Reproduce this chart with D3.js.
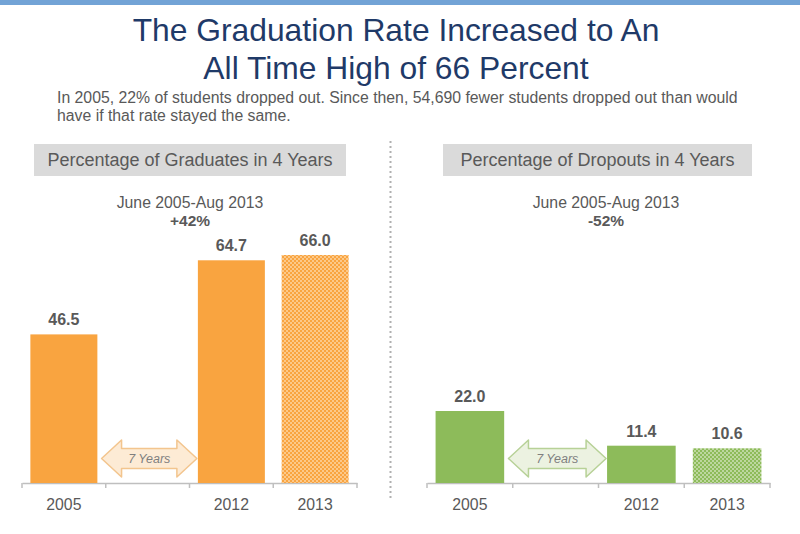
<!DOCTYPE html>
<html><head><meta charset="utf-8">
<script src="https://cdn.jsdelivr.net/npm/d3@7"></script>
<style>
html,body{margin:0;padding:0;background:#fff;}
svg{display:block;font-family:"Liberation Sans",Arial,sans-serif;}
</style></head>
<body>
<svg id="c" width="800" height="534"></svg>
<script>
// ---- data ----
const categories = ["2005", "gap", "2012", "2013"];
const gradYears = ["2005", "2012", "2013"];
const gradValues = [46.5, 64.7, 66.0];
const dropYears = ["2005", "2012", "2013"];
const dropValues = [22.0, 11.4, 10.6];
const projected = ["2013"];
const titleLines = ["The Graduation Rate Increased to An", "All Time High of 66 Percent"];
const subtitleLines = ["In 2005, 22% of students dropped out. Since then, 54,690 fewer students dropped out than would",
                       "have if that rate stayed the same."];
const panelTitles = ["Percentage of Graduates in 4 Years", "Percentage of Dropouts in 4 Years"];
const periodLabel = "June 2005-Aug 2013";
const changeLabels = ["+42%", "-52%"];
const gapLabel = "7 Years";

const svg = d3.select("#c");
const textGray = "#595959";

// top band
svg.append("rect").attr("x",0).attr("y",0).attr("width",800).attr("height",5).attr("fill","#72a3d6");

// title
svg.selectAll("text.title").data(titleLines).enter().append("text")
  .attr("x",396).attr("y",(d,i)=>41+i*38).attr("text-anchor","middle")
  .attr("font-size",31.8).attr("fill","#1f3a68")
  .text(d=>d);

svg.selectAll("text.sub").data(subtitleLines).enter().append("text")
  .attr("x",57).attr("y",(d,i)=>103+i*18)
  .attr("font-size",15.8).attr("fill",textGray).text(d=>d);

// patterns
const defs = svg.append("defs");
function makePattern(id, base, dot){
  const p = defs.append("pattern").attr("id",id).attr("patternUnits","userSpaceOnUse")
    .attr("width",4).attr("height",4);
  p.append("rect").attr("width",4).attr("height",4).attr("fill",base);
  p.append("rect").attr("x",0).attr("y",0).attr("width",2).attr("height",2).attr("fill",dot);
  p.append("rect").attr("x",2).attr("y",2).attr("width",2).attr("height",2).attr("fill",dot);
}
makePattern("pOrange","#f9a440","#fcc98a");
makePattern("pGreen","#8dbb5a","#bdd79e");

// divider
svg.append("line").attr("x1",390.5).attr("x2",390.5).attr("y1",141).attr("y2",498)
  .attr("stroke","#b0b0b0").attr("stroke-width",2).attr("stroke-dasharray","2,3");

function panel(cfg){
  const g = svg.append("g");
  // header box
  g.append("rect").attr("x",cfg.boxX).attr("y",144).attr("width",cfg.boxW).attr("height",32).attr("fill","#dadada");
  g.append("text").attr("x",cfg.boxX+cfg.boxW/2).attr("y",166).attr("text-anchor","middle")
    .attr("font-size",18).attr("fill",textGray).text(cfg.title);
  g.append("text").attr("x",cfg.cx).attr("y",208).attr("text-anchor","middle")
    .attr("font-size",15.8).attr("fill",textGray).text(periodLabel);
  g.append("text").attr("x",cfg.cx).attr("y",226).attr("text-anchor","middle")
    .attr("font-size",15.5).attr("font-weight","bold").attr("fill",textGray).text(cfg.change);

  const x = d3.scaleBand().domain(categories).range(cfg.xr).paddingInner(0.2).paddingOuter(0.1);
  const y = d3.scaleLinear().domain(cfg.yd).range([483, cfg.yTop]);

  // axis
  const ax = g.append("g").attr("transform","translate(0,483)")
    .call(d3.axisBottom(x).tickSize(0).tickFormat(d=>d==="gap"?"":d));
  ax.select(".domain").attr("stroke","#bfbfbf").attr("stroke-width",1.5);
  ax.selectAll(".tick text").attr("font-size",15.8).attr("fill",textGray).attr("dy","1.5em")
    .attr("font-family","'Liberation Sans', Arial, sans-serif");
  const edges = categories.map(c=>x(c)-x.step()*x.paddingInner()/2);
  edges.push(cfg.xr[1]);
  edges[0]=cfg.xr[0];
  ax.selectAll("line.edge").data(edges).enter().append("line")
    .attr("x1",d=>d).attr("x2",d=>d).attr("y1",0).attr("y2",5).attr("stroke","#bfbfbf").attr("stroke-width",1.5);

  const data = cfg.years.map((yr,i)=>({yr, v:cfg.values[i]}));
  g.selectAll("rect.bar").data(data).enter().append("rect")
    .attr("x",d=>x(d.yr)).attr("width",x.bandwidth())
    .attr("y",d=>y(d.v)).attr("height",d=>483-y(d.v))
    .attr("fill",d=>projected.includes(d.yr)?`url(#${cfg.pat})`:cfg.color);
  g.selectAll("text.val").data(data).enter().append("text")
    .attr("x",d=>x(d.yr)+x.bandwidth()/2).attr("y",d=>y(d.v)-9)
    .attr("text-anchor","middle").attr("font-size",16).attr("font-weight","bold").attr("fill",textGray)
    .text(d=>d.v.toFixed(1));

  // double arrow in gap band
  const ax0 = x("gap")-x.step()*0.15, ax1 = x("2012")-1;
  const yt=440, yb=477, ym=(yt+yb)/2, sh=10, hw=20;
  const path = `M${ax0},${ym} L${ax0+hw},${yt} L${ax0+hw},${ym-sh} L${ax1-hw},${ym-sh} L${ax1-hw},${yt} L${ax1},${ym} L${ax1-hw},${yb} L${ax1-hw},${ym+sh} L${ax0+hw},${ym+sh} L${ax0+hw},${yb} Z`;
  g.append("path").attr("d",path).attr("fill",cfg.arrowFill).attr("stroke",cfg.arrowStroke).attr("stroke-width",1.5)
    .attr("stroke-linejoin","round");
  g.append("text").attr("x",(ax0+ax1)/2).attr("y",ym+4.5).attr("text-anchor","middle")
    .attr("font-size",12.5).attr("font-style","italic").attr("fill","#7f7f7f").text(gapLabel);
}

panel({boxX:34, boxW:312, title:panelTitles[0], cx:190, change:changeLabels[0],
  xr:[22,357], yd:[10,66], yTop:255, years:gradYears, values:gradValues,
  color:"#f9a440", pat:"pOrange", arrowFill:"#fdebd5", arrowStroke:"#f3c58e"});
panel({boxX:443, boxW:309, title:panelTitles[1], cx:606, change:changeLabels[1],
  xr:[427,770], yd:[0,22], yTop:411, years:dropYears, values:dropValues,
  color:"#8dbb5a", pat:"pGreen", arrowFill:"#ecf2e1", arrowStroke:"#b7d197"});
</script>
</body></html>
